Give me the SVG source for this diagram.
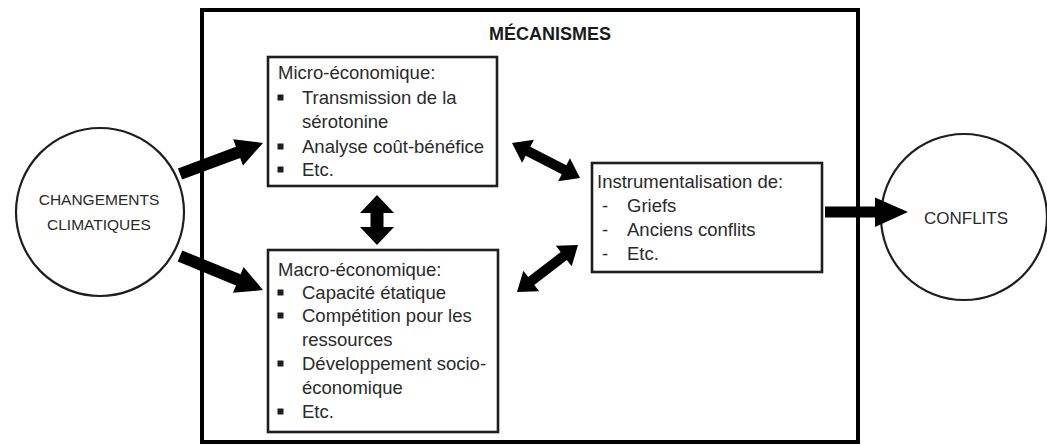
<svg xmlns="http://www.w3.org/2000/svg" width="1047" height="445" viewBox="0 0 1047 445">
<style>
.t{font-family:"Liberation Sans",Arial,sans-serif;font-size:18.5px;fill:#2a2a2a}
.c{font-family:"Liberation Sans",Arial,sans-serif;font-size:17px;fill:#2a2a2a;text-anchor:middle}
.cs{font-size:15.5px}
.h{font-family:"Liberation Sans",Arial,sans-serif;font-size:18px;font-weight:bold;fill:#1a1a1a;text-anchor:middle}
.box{fill:#fff;stroke:#1e1e1e;stroke-width:2.6}
.circ{fill:#fff;stroke:#1e1e1e;stroke-width:2.2}
.arr{fill:#000}
.b{fill:#1e1e1e}
</style>
<rect width="1047" height="445" fill="#fff"/>
<g id="mecanismes">
<rect x="202" y="10" width="656" height="432" fill="none" stroke="#000" stroke-width="4"/>
<text class="h" x="550" y="40">MÉCANISMES</text>
</g>
<g id="changements">
<circle class="circ" cx="100" cy="212" r="84"/>
<text class="c cs" x="99" y="205">CHANGEMENTS</text>
<text class="c cs" x="99" y="230">CLIMATIQUES</text>
</g>
<g id="conflits">
<circle class="circ" cx="964" cy="217" r="83"/>
<text class="c" x="966" y="224">CONFLITS</text>
</g>
<g id="micro">
<rect class="box" x="268" y="57" width="229" height="129"/>
<text class="t" x="278" y="79">Micro-économique:</text>
<rect class="b" x="277.5" y="94.5" width="6" height="6"/>
<text class="t" x="302" y="104">Transmission de la</text>
<text class="t" x="302" y="128">sérotonine</text>
<rect class="b" x="277.5" y="143.5" width="6" height="6"/>
<text class="t" x="302" y="153">Analyse coût-bénéfice</text>
<rect class="b" x="277.5" y="166.5" width="6" height="6"/>
<text class="t" x="302" y="176">Etc.</text>
</g>
<g id="macro">
<rect class="box" x="268" y="250" width="230" height="182"/>
<text class="t" x="278" y="276">Macro-économique:</text>
<rect class="b" x="277.5" y="289.5" width="6" height="6"/>
<text class="t" x="302" y="299">Capacité étatique</text>
<rect class="b" x="277.5" y="312.5" width="6" height="6"/>
<text class="t" x="302" y="322">Compétition pour les</text>
<text class="t" x="302" y="346">ressources</text>
<rect class="b" x="277.5" y="360.5" width="6" height="6"/>
<text class="t" x="302" y="370">Développement socio-</text>
<text class="t" x="302" y="394">économique</text>
<rect class="b" x="277.5" y="408.5" width="6" height="6"/>
<text class="t" x="302" y="418">Etc.</text>
</g>
<g id="instrumentalisation">
<rect class="box" x="592" y="163" width="230" height="109"/>
<text class="t" x="597" y="188">Instrumentalisation de:</text>
<text class="t" x="602" y="212">-</text>
<text class="t" x="627" y="212">Griefs</text>
<text class="t" x="602" y="236">-</text>
<text class="t" x="627" y="236">Anciens conflits</text>
<text class="t" x="602" y="260">-</text>
<text class="t" x="627" y="260">Etc.</text>
</g>
<g id="connectors">
<path class="arr" transform="translate(180,174) rotate(-20.5)" d="M0,-6 L62,-6 L62,-14 L88.6,0 L62,14 L62,6 L0,6 Z"/>
<path class="arr" transform="translate(180,256) rotate(22.3)" d="M0,-6 L63,-6 L63,-14 L89.7,0 L63,14 L63,6 L0,6 Z"/>
<path class="arr" d="M825,206.5 L875,206.5 L875,197.5 L908,212 L875,227 L875,217.5 L825,217.5 Z"/>
<path class="arr" transform="translate(512,143) rotate(27.2)" d="M0,0 L18,-13 L18,-5 L58.5,-5 L58.5,-13 L76.5,0 L58.5,13 L58.5,5 L18,5 L18,13 Z"/>
<path class="arr" transform="translate(517,292) rotate(-37.6)" d="M0,0 L18,-13 L18,-5 L59,-5 L59,-13 L77,0 L59,13 L59,5 L18,5 L18,13 Z"/>
<path class="arr" d="M377,195 L394,213 L383.5,213 L383.5,227 L394,227 L377,245 L360,227 L370.5,227 L370.5,213 L360,213 Z"/>
</g>
</svg>
